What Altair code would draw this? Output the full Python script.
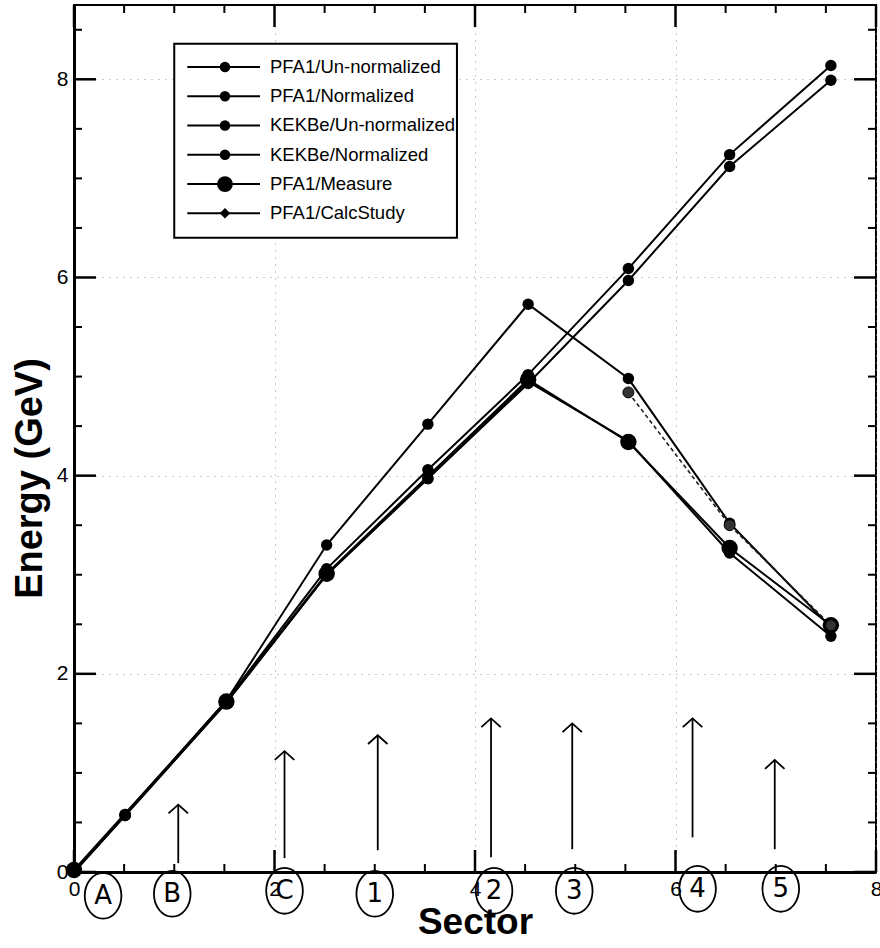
import altair as alt
import pandas as pd

# ---------------- data ----------------
sector = [0, 0.51, 1.52, 2.52, 3.53, 4.53, 5.53, 6.54, 7.55]
pfa1_unnorm = [0, 0.58, 1.73, 3.06, 4.06, 5.02, 6.09, 7.24, 8.14]
pfa1_norm = [0, 0.57, 1.71, 3.00, 3.97, 4.93, 5.97, 7.12, 7.99]
kekbe_unnorm = [0, 0.58, 1.73, 3.30, 4.52, 5.73, 4.98, 3.52, 2.47]
kekbe_norm = [0, 0.57, 1.71, 3.00, 3.97, 4.95, 4.35, 3.22, 2.38]
measure_x = [0, 1.52, 2.52, 4.53, 5.53, 6.54, 7.55]
measure = [0.02, 1.72, 3.01, 4.97, 4.34, 3.27, 2.49]
calc_x = [5.53, 6.54, 7.55]
calc = [4.84, 3.50, 2.49]

series_names = ["PFA1/Un-normalized", "PFA1/Normalized", "KEKBe/Un-normalized",
                "KEKBe/Normalized", "PFA1/Measure", "PFA1/CalcStudy"]

axis_values = [0, 2, 4, 6, 8]
x_minor = [0.5, 1, 1.5, 2.5, 3, 3.5, 4.5, 5, 5.5, 6.5, 7, 7.5]
y_minor = [0.5, 1, 1.5, 2.5, 3, 3.5, 4.5, 5, 5.5, 6.5, 7, 7.5, 8.5]

# hand-written annotations
note_labels = ["A", "B", "C", "1", "2", "3", "4", "5"]
note_x = [0.29, 0.98, 2.10, 3.00, 4.19, 4.99, 6.22, 7.05]
note_y = [-0.24, -0.22, -0.19, -0.22, -0.19, -0.19, -0.17, -0.17]
arrow_x = [1.04, 2.10, 3.03, 4.16, 4.97, 6.17, 6.99]
arrow_y0 = [0.09, 0.14, 0.22, 0.15, 0.23, 0.35, 0.23]
arrow_y1 = [0.68, 1.22, 1.38, 1.55, 1.50, 1.55, 1.13]

# ---------------- tables ----------------
rows = []
for name, ys in zip(series_names[:4], [pfa1_unnorm, pfa1_norm, kekbe_unnorm, kekbe_norm]):
    for i, (xv, yv) in enumerate(zip(sector, ys)):
        rows.append({"series": name, "i": i, "x": xv, "y": yv})
for i, (xv, yv) in enumerate(zip(measure_x, measure)):
    rows.append({"series": series_names[4], "i": i, "x": xv, "y": yv})
df_solid = pd.DataFrame(rows)
df_small = df_solid[df_solid.series != series_names[4]]
df_big = df_solid[df_solid.series == series_names[4]]
df_calc = pd.DataFrame({"series": series_names[5], "i": range(len(calc)), "x": calc_x, "y": calc})

W, H = 802, 867
FONT = "Liberation Sans"

xs = alt.Scale(domain=[0, 8], nice=False, zero=False)
ys = alt.Scale(domain=[0, 8.75], nice=False, zero=False)

x_axis = alt.Axis(values=axis_values, ticks=False, grid=True, gridDash=[1, 6], gridColor="#999999",
                  gridWidth=1, domainColor="black", domainWidth=3, labelFont=FONT, labelFontSize=21,
                  labelColor="black", labelPadding=6, labelFlush=False, labelOverlap=False,
                  title="Sector", titleFont=FONT, titleFontSize=37, titleFontWeight="bold",
                  titleColor="black", titleY=61, titleBaseline="alphabetic", format="d")
y_axis = alt.Axis(values=axis_values, ticks=False, grid=True, gridDash=[1, 6], gridColor="#999999",
                  gridWidth=1, domainColor="black", domainWidth=3, labelFont=FONT, labelFontSize=21,
                  labelColor="black", labelPadding=6, labelFlush=False, labelOverlap=False,
                  title="Energy (GeV)", titleFont=FONT, titleFontSize=38, titleFontWeight="bold",
                  titleColor="black", titleX=-33, titleY=473, titleAngle=270,
                  titleBaseline="alphabetic", titleAlign="center", format="d")


def X(field):
    return alt.X(field, type="quantitative", scale=xs, axis=x_axis)


def Y(field):
    return alt.Y(field, type="quantitative", scale=ys, axis=y_axis)


layers = []

# data lines
layers.append(alt.Chart(df_solid).mark_line(color="black", strokeWidth=2).encode(
    x=X("x"), y=Y("y"), detail="series:N", order="i:Q"))
layers.append(alt.Chart(df_calc).mark_line(color="#222", strokeWidth=1.6, strokeDash=[4, 3]).encode(
    x=X("x"), y=Y("y"), detail="series:N", order="i:Q"))
# markers
layers.append(alt.Chart(df_small).mark_point(filled=True, color="black", size=130, opacity=1).encode(
    x=X("x"), y=Y("y")))
layers.append(alt.Chart(df_big).mark_point(filled=True, color="black", size=270, opacity=1).encode(
    x=X("x"), y=Y("y")))
layers.append(alt.Chart(df_calc).mark_point(filled=True, color="#333", size=120, opacity=1,
                                            stroke="black", strokeWidth=1).encode(
    x=X("x"), y=Y("y")))

# inward ticks on four sides
def tick_layers(vals, length, width):
    d = pd.DataFrame({"v": vals})
    out = []
    out.append(alt.Chart(d).mark_rule(color="black", strokeWidth=width).encode(
        x=X("v"), y=alt.value(H), y2=alt.value(H - length)))
    out.append(alt.Chart(d).mark_rule(color="black", strokeWidth=width).encode(
        x=X("v"), y=alt.value(0), y2=alt.value(length)))
    return out


def ytick_layers(vals, length, width):
    d = pd.DataFrame({"v": vals})
    out = []
    out.append(alt.Chart(d).mark_rule(color="black", strokeWidth=width).encode(
        y=Y("v"), x=alt.value(0), x2=alt.value(length)))
    out.append(alt.Chart(d).mark_rule(color="black", strokeWidth=width).encode(
        y=Y("v"), x=alt.value(W), x2=alt.value(W - length)))
    return out


layers += tick_layers(axis_values, 22, 2.5)
layers += tick_layers(x_minor, 8, 2)
layers += ytick_layers(axis_values, 22, 2.5)
layers += ytick_layers(y_minor, 8, 2)

# legend (placed in data units)
leg_top, leg_step = 8.125, 0.2955
leg = pd.DataFrame({
    "name": series_names,
    "yv": [leg_top - k * leg_step for k in range(len(series_names))],
    "x0": 1.13, "x1": 1.855, "xm": 1.506, "xt": 1.955,
})
box = pd.DataFrame({"a": [1.0], "b": [3.82], "c": [8.36], "d": [6.40]})
layers.append(alt.Chart(box).mark_rect(fill="white", stroke="black", strokeWidth=2).encode(
    x=X("a"), x2="b", y=Y("c"), y2="d"))
layers.append(alt.Chart(leg).mark_rule(color="black", strokeWidth=2).encode(
    x=X("x0"), x2="x1", y=Y("yv")))
layers.append(alt.Chart(leg[leg.name.isin(series_names[:4])]).mark_point(
    filled=True, color="black", size=110, opacity=1).encode(x=X("xm"), y=Y("yv")))
layers.append(alt.Chart(leg[leg.name == series_names[4]]).mark_point(
    filled=True, color="black", size=250, opacity=1).encode(x=X("xm"), y=Y("yv")))
layers.append(alt.Chart(leg[leg.name == series_names[5]]).mark_point(
    filled=True, color="black", size=110, shape="diamond", opacity=1).encode(x=X("xm"), y=Y("yv")))
layers.append(alt.Chart(leg).mark_text(align="left", baseline="middle", font=FONT, fontSize=18.5,
                                       color="black").encode(x=X("xt"), y=Y("yv"), text="name:N"))

# hand-written annotations
notes = pd.DataFrame({"t": note_labels, "x": note_x, "y": note_y})
ellipse = "M0,-1A0.8,1,0,1,1,0,1A0.8,1,0,1,1,0,-1Z"
layers.append(alt.Chart(notes).mark_point(shape=ellipse, size=2100, filled=False, color="black",
                                          strokeWidth=1.8, opacity=1, clip=False).encode(
    x=X("x"), y=Y("y")))
layers.append(alt.Chart(notes).mark_text(font="DejaVu Sans", fontSize=26, color="black",
                                         baseline="middle", clip=False).encode(
    x=X("x"), y=Y("y"), text="t:N"))
arrows = pd.DataFrame({"x": arrow_x, "y0": arrow_y0, "y1": arrow_y1})
layers.append(alt.Chart(arrows).mark_rule(color="black", strokeWidth=1.8).encode(
    x=X("x"), y=Y("y0"), y2="y1"))
layers.append(alt.Chart(arrows).mark_point(shape="M-1,0.9L0,0L1,0.9", size=380, filled=False,
                                           color="black", strokeWidth=1.8, opacity=1).encode(
    x=X("x"), y=Y("y1")))

chart = alt.layer(*layers).properties(
    width=W, height=H,
    autosize=alt.AutoSizeParams(type="none"),
    padding={"left": 74, "top": 5, "right": 4, "bottom": 76},
    background="white",
).configure_view(stroke="black", strokeWidth=2)

chart.save("out.html", embed_options={"renderer": "svg", "actions": False})
